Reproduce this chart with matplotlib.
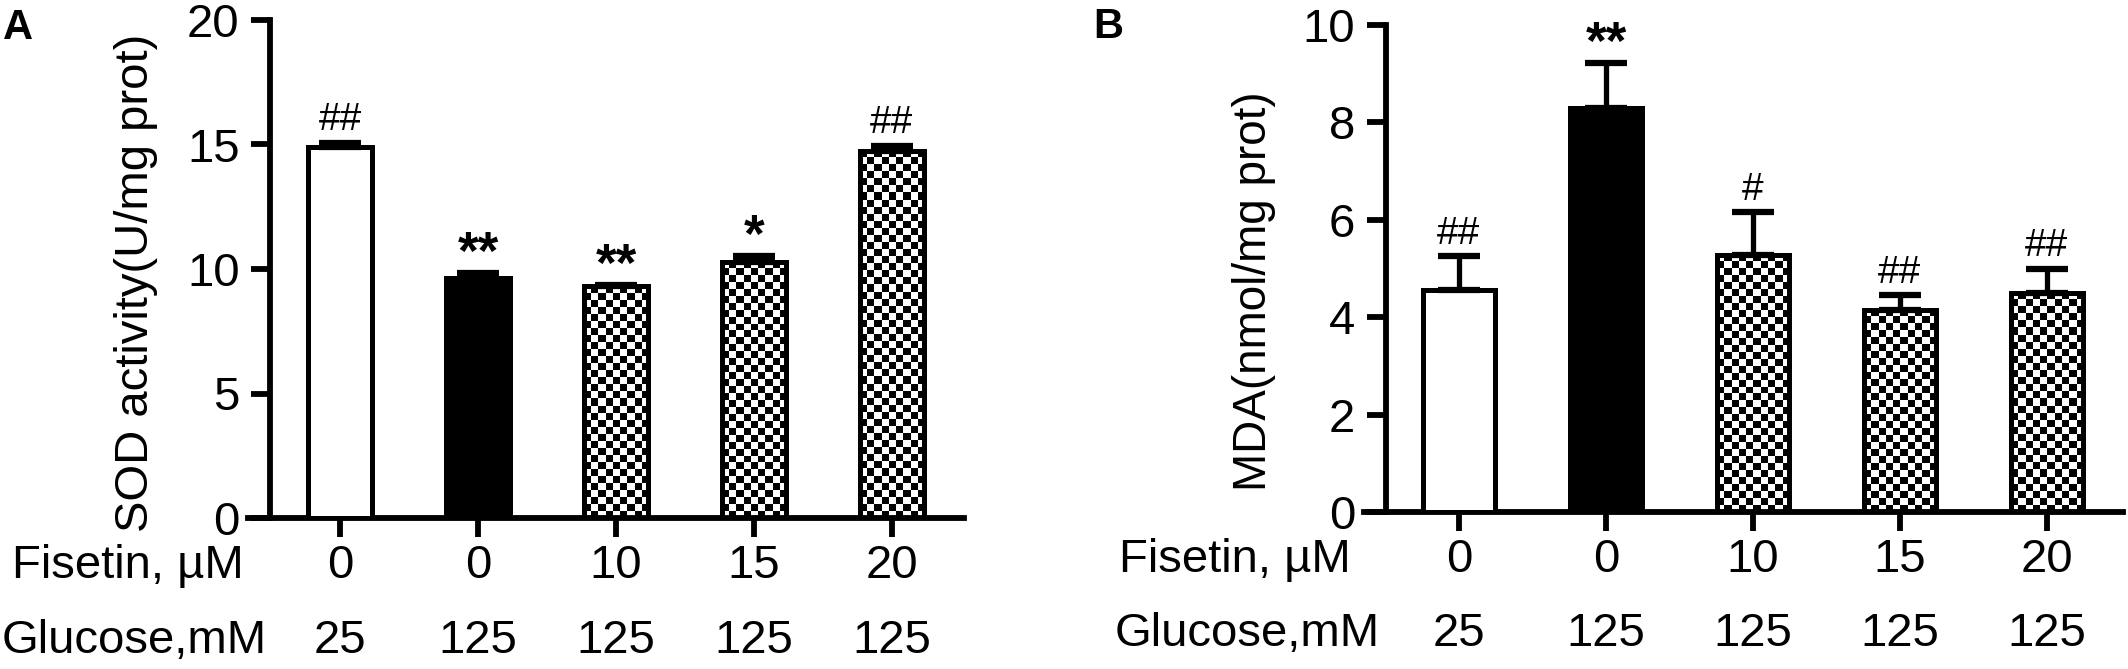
import matplotlib
matplotlib.use('Agg')
import matplotlib.pyplot as plt
import matplotlib.transforms as mtransforms
import numpy as np

plt.rcParams['font.family'] = ['Liberation Sans', 'DejaVu Sans']

# data
fisetin = ['0', '0', '10', '15', '20']
glucose = ['25', '125', '125', '125', '125']
fills = ['white', 'black', 'checker', 'checker', 'checker']

sod_vals = [14.9, 9.65, 9.3, 10.3, 14.75]
sod_err = [0.18, 0.2, 0.05, 0.22, 0.2]
sod_marks = ['##', '**', '**', '*', '##']

mda_vals = [4.55, 8.3, 5.28, 4.15, 4.5]
mda_err = [0.7, 0.92, 0.87, 0.3, 0.5]
mda_marks = ['##', '**', '#', '##', '##']

W, H = 2128, 669
fig = plt.figure(figsize=(W / 100, H / 100), dpi=100)
LW = 4.2
FS = 34


def px_rect(left, right, bottom, top):
    return [left / W, 1 - bottom / H, (right - left) / W, (bottom - top) / H]


def checker(ax, patch, cell=7):
    x0, y0 = patch.get_x(), patch.get_y()
    w, h = patch.get_width(), patch.get_height()
    p0 = ax.transData.transform((x0, y0))
    p1 = ax.transData.transform((x0 + w, y0 + h))
    nx = max(1, int(round(abs(p1[0] - p0[0]) / cell)))
    ny = max(1, int(round(abs(p1[1] - p0[1]) / cell)))
    board = np.indices((ny, nx)).sum(axis=0) % 2
    im = ax.imshow(board, cmap='binary', extent=(x0, x0 + w, y0, y0 + h),
                   origin='lower', interpolation='nearest', aspect='auto',
                   zorder=2.5, vmin=0, vmax=1)
    im.set_clip_path(patch)


def panel(rect, xl, spine_x, ylim, yticks, vals, errs, marks, width,
          ylabel, ylabel_fs, ylabel_xy, letter, letter_xy, row_y, row_x):
    ax = fig.add_axes(rect)
    ax.set_xlim(*xl)
    ax.set_ylim(*ylim)
    x = np.arange(len(vals))
    bars = ax.bar(x, vals, width=width, edgecolor='black', linewidth=3.6,
                  zorder=3)
    for b, f in zip(bars, fills):
        if f == 'checker':
            b.set_facecolor('none')
            checker(ax, b)
        else:
            b.set_facecolor(f)
    ax.errorbar(x, vals, yerr=[np.zeros(len(vals)), errs], fmt='none',
                ecolor='black', elinewidth=3.8, capsize=15, capthick=4.5,
                zorder=4)
    for xi, v, e, m in zip(x, vals, errs, marks):
        if m.startswith('*'):
            ax.annotate(m, (xi, v + e), xytext=(0, 3), textcoords='offset points',
                        ha='center', va='baseline', fontsize=38, fontweight='bold')
        else:
            ax.annotate(m, (xi, v + e), xytext=(0, 9), textcoords='offset points',
                        ha='center', va='baseline', fontsize=28)
    ax.set_xlim(*xl)
    ax.set_ylim(*ylim)

    for s in ['top', 'right']:
        ax.spines[s].set_visible(False)
    ax.spines['left'].set_position(('data', spine_x))
    ax.spines['left'].set_linewidth(LW)
    ax.spines['bottom'].set_linewidth(LW)
    ax.set_yticks(yticks)
    ax.set_yticklabels([str(t) for t in yticks], fontsize=FS)
    ax.set_xticks(x)
    ax.set_xticklabels([])
    ax.tick_params(axis='both', length=14, width=LW, direction='out', pad=8)

    trans = mtransforms.blended_transform_factory(ax.transData, fig.transFigure)
    for xi, f, g in zip(x, fisetin, glucose):
        ax.text(xi, 1 - row_y[0] / H, f, transform=trans, ha='center',
                va='center', fontsize=FS, clip_on=False)
        ax.text(xi, 1 - row_y[1] / H, g, transform=trans, ha='center',
                va='center', fontsize=FS, clip_on=False)
    fig.text(row_x[0] / W, 1 - row_y[0] / H, 'Fisetin, µM', ha='left',
             va='center', fontsize=FS)
    fig.text(row_x[1] / W, 1 - row_y[1] / H, 'Glucose,mM', ha='left',
             va='center', fontsize=FS)
    fig.text(ylabel_xy[0] / W, 1 - ylabel_xy[1] / H, ylabel, rotation=90,
             ha='center', va='center', fontsize=ylabel_fs)
    fig.text(letter_xy[0] / W, 1 - letter_xy[1] / H, letter, ha='left',
             va='top', fontsize=30, fontweight='bold')
    return ax


panel(px_rect(248, 964, 518, 20), (-0.667, 4.522), -0.507, (0, 20),
      [0, 5, 10, 15, 20], sod_vals, sod_err, sod_marks, 0.47,
      'SOD activity(U/mg prot)', 34, (136, 283), 'A', (3, 8),
      (566, 641), (12, 2))

panel(px_rect(1364, 2123, 512, 25), (-0.646, 4.517), -0.497, (0, 10),
      [0, 2, 4, 6, 8, 10], mda_vals, mda_err, mda_marks, 0.49,
      'MDA(nmol/mg prot)', 33, (1254, 291), 'B', (1093, 7),
      (560, 634), (1119, 1115))

fig.savefig('out.png', dpi=100)
